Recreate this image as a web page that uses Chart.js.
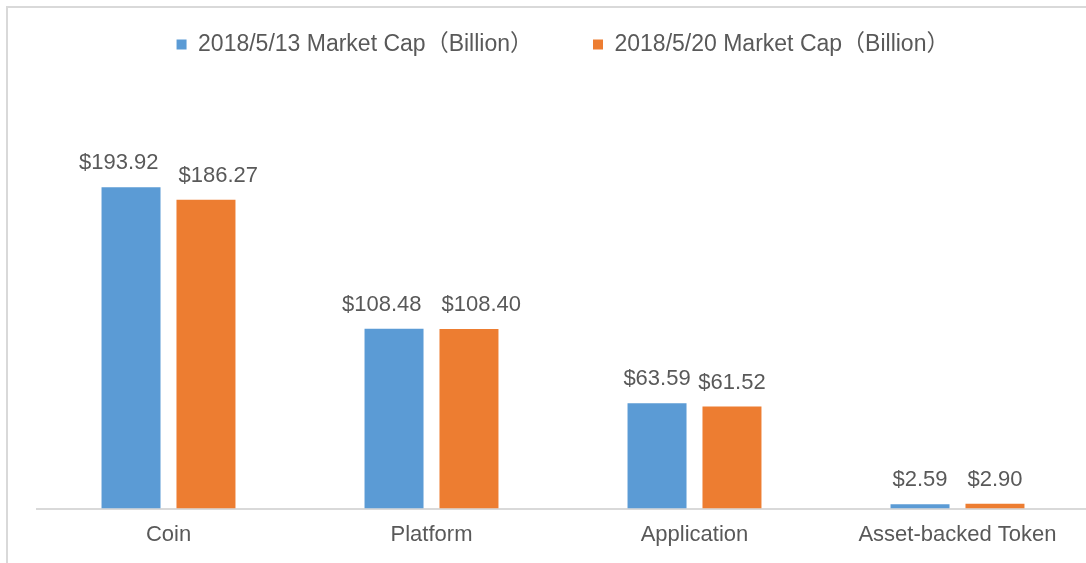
<!DOCTYPE html>
<html>
<head>
<meta charset="utf-8">
<script src="https://cdn.jsdelivr.net/npm/chart.js@4.4.1/dist/chart.umd.min.js"></script>
<style>
  html, body { margin: 0; padding: 0; background: #fff; overflow: hidden; width: 1086px; height: 563px; }
  .frame { position: absolute; left: 6px; top: 6px; width: 1100px; height: 600px; border: 2px solid #d9d9d9; }
  .wrap { position: absolute; left: 0; top: -27px; width: 1096px; height: 590px; }
</style>
</head>
<body>
<div class="frame"></div>
<div class="wrap"><canvas id="myChart" width="1096" height="590"></canvas></div>
<script>
var categories = ['Coin', 'Platform', 'Application', 'Asset-backed Token'];
var seriesNames = ['2018/5/13 Market Cap（Billion）', '2018/5/20 Market Cap（Billion）'];
var may13 = [193.92, 108.48, 63.59, 2.59];
var may20 = [186.27, 108.40, 61.52, 2.90];
var colors = ['#5B9BD5', '#ED7D31'];

var textColor = '#595959';
var fontFamily = '"Liberation Sans", Arial, "Noto Sans CJK SC", sans-serif';

// value labels above bars, pushed apart when the pair overlaps
var valueLabels = {
    id: 'valueLabels',
    afterDatasetsDraw: function (chart) {
        var ctx = chart.ctx;
        ctx.save();
        ctx.font = '22px ' + fontFamily;
        ctx.fillStyle = textColor;
        ctx.textAlign = 'center';
        ctx.textBaseline = 'alphabetic';
        var m0 = chart.getDatasetMeta(0), m1 = chart.getDatasetMeta(1);
        for (var i = 0; i < categories.length; i++) {
            var b0 = m0.data[i], b1 = m1.data[i];
            var t0 = '$' + chart.data.datasets[0].data[i].toFixed(2);
            var t1 = '$' + chart.data.datasets[1].data[i].toFixed(2);
            var w0 = ctx.measureText(t0).width, w1 = ctx.measureText(t1).width;
            var x0 = b0.x, x1 = b1.x;
            var gap = 20;
            if (x0 + w0 / 2 + 4 > x1 - w1 / 2) {
                var mid = (b0.x + b1.x) / 2;
                x0 = mid - gap / 2 - w0 / 2;
                x1 = mid + gap / 2 + w1 / 2;
            }
            ctx.fillText(t0, x0, b0.y - 18);
            ctx.fillText(t1, x1, b1.y - 18);
        }
        ctx.restore();
    }
};

var ctx = document.getElementById('myChart').getContext('2d');
var myChart = new Chart(ctx, {
    type: 'bar',
    data: {
        labels: categories,
        datasets: [{
            label: seriesNames[0],
            data: may13,
            backgroundColor: colors[0],
            categoryPercentage: 0.57,
            barPercentage: 0.787
        }, {
            label: seriesNames[1],
            data: may20,
            backgroundColor: colors[1],
            categoryPercentage: 0.57,
            barPercentage: 0.787
        }]
    },
    options: {
        responsive: false,
        maintainAspectRatio: false,
        animation: false,
        layout: {
            padding: { left: 37, right: 7, top: 0, bottom: 2 }
        },
        plugins: {
            legend: {
                position: 'top',
                labels: {
                    boxWidth: 10,
                    boxHeight: 10,
                    padding: 60,
                    color: textColor,
                    font: { size: 23, family: fontFamily }
                }
            },
            tooltip: { enabled: false }
        },
        scales: {
            x: {
                grid: { display: false, drawTicks: false },
                border: { color: '#d9d9d9', width: 2 },
                ticks: {
                    color: textColor,
                    padding: 13,
                    font: { size: 22, family: fontFamily }
                }
            },
            y: {
                display: false,
                min: 0,
                max: 267
            }
        }
    },
    plugins: [valueLabels]
});
</script>
</body>
</html>
